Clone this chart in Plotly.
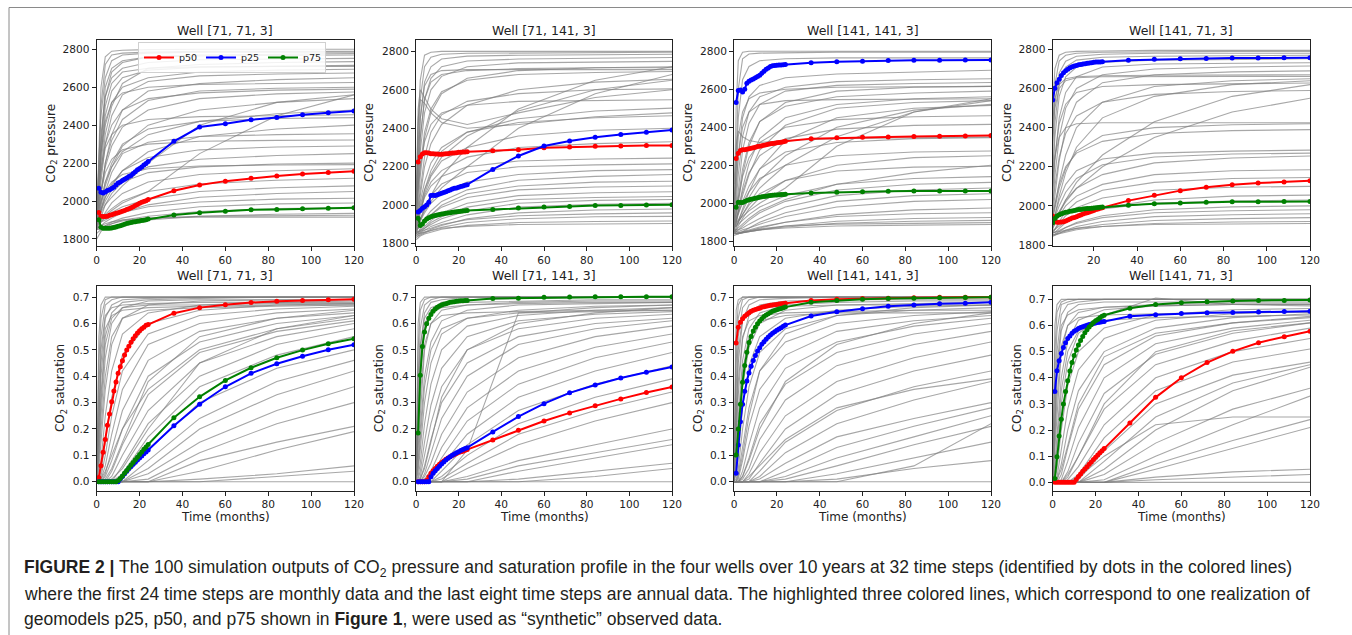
import plotly.graph_objects as go

W_PX, H_PX = 1352, 635

# ---------------- data ----------------
TIME = list(range(1, 25)) + [36, 48, 60, 72, 84, 96, 108, 120]
TG = [0, 1, 2, 4, 7, 12, 24, 48, 84, 120]
WELLS = ["Well [71, 71, 3]", "Well [71, 141, 3]", "Well [141, 141, 3]", "Well [141, 71, 3]"]

# pressure, highlighted realisations
pres_w1_p50 = [1940,1920,1918,1918,1920,1925,1928,1932,1935,1938,1942,1946,1950,1955,1960,1965,1970,1976,1982,1988,1993,1998,2002,2008,2054,2085,2105,2120,2132,2142,2150,2157]
pres_w1_p25 = [2068,2047,2042,2048,2055,2060,2066,2073,2085,2095,2100,2108,2115,2122,2130,2135,2145,2155,2165,2172,2180,2190,2198,2208,2315,2390,2408,2428,2440,2455,2465,2475]
pres_w1_p75 = [1902,1862,1857,1856,1856,1857,1858,1860,1863,1867,1870,1874,1878,1881,1884,1887,1889,1891,1893,1895,1897,1899,1901,1905,1926,1938,1946,1954,1956,1959,1962,1965]

pres_w2_p50 = [2225,2252,2266,2273,2273,2272,2268,2267,2266,2266,2265,2265,2266,2267,2268,2270,2271,2272,2273,2275,2276,2277,2277,2278,2283,2289,2299,2303,2306,2308,2310,2311]
pres_w2_p25 = [1965,1972,1984,1992,2001,2015,2050,2052,2051,2055,2058,2062,2066,2070,2075,2079,2084,2088,2090,2093,2097,2100,2104,2107,2186,2256,2308,2334,2353,2368,2379,2391]
pres_w2_p75 = [1932,1894,1902,1918,1928,1935,1940,1944,1947,1949,1952,1954,1956,1958,1960,1961,1963,1965,1966,1968,1969,1970,1971,1972,1978,1985,1991,1994,1998,1999,2001,2003]

pres_w3_p50 = [2235,2263,2277,2281,2281,2284,2287,2289,2292,2295,2298,2300,2303,2305,2308,2311,2313,2314,2316,2318,2320,2321,2323,2326,2340,2344,2347,2349,2351,2353,2354,2356]
pres_w3_p25 = [2530,2593,2596,2586,2600,2632,2642,2649,2654,2660,2667,2674,2684,2695,2705,2712,2719,2723,2725,2726,2727,2728,2729,2730,2739,2744,2747,2751,2753,2753,2754,2754]
pres_w3_p75 = [1979,2005,2004,2004,2009,2014,2018,2021,2024,2026,2029,2032,2034,2035,2037,2039,2041,2042,2043,2044,2045,2046,2046,2047,2054,2058,2060,2063,2065,2065,2065,2065]

pres_w4_p50 = [1948,1919,1916,1916,1918,1919,1923,1928,1933,1938,1941,1945,1949,1953,1958,1962,1965,1969,1973,1977,1981,1984,1988,1991,2027,2054,2078,2095,2108,2117,2122,2129]
pres_w4_p25 = [2541,2601,2630,2648,2667,2681,2691,2699,2706,2711,2715,2718,2721,2723,2725,2727,2729,2730,2732,2734,2735,2735,2736,2737,2745,2749,2752,2754,2756,2756,2757,2757]
pres_w4_p75 = [1914,1936,1948,1955,1960,1964,1967,1969,1972,1974,1977,1979,1981,1982,1984,1986,1987,1987,1988,1989,1991,1992,1993,1994,2003,2011,2015,2018,2021,2021,2023,2023]

# saturation, highlighted realisations
sat_w1_p50 = [0.016,0.061,0.112,0.16,0.214,0.257,0.303,0.344,0.378,0.411,0.436,0.459,0.48,0.499,0.514,0.529,0.542,0.553,0.564,0.572,0.58,0.586,0.593,0.596,0.639,0.66,0.671,0.679,0.684,0.687,0.69,0.692]
sat_w1_p25 = [0,0,0,0,0,0,0,0,0,0,0.01,0.02,0.03,0.04,0.05,0.058,0.066,0.074,0.082,0.09,0.098,0.106,0.113,0.12,0.212,0.294,0.36,0.411,0.447,0.476,0.5,0.519]
sat_w1_p75 = [0,0,0,0,0,0,0,0,0,0.005,0.012,0.022,0.033,0.043,0.053,0.063,0.073,0.083,0.093,0.103,0.113,0.123,0.132,0.141,0.243,0.322,0.384,0.432,0.47,0.499,0.523,0.542]

sat_w2_p50 = [0,0,0,0,0.006,0.019,0.032,0.042,0.05,0.059,0.066,0.073,0.079,0.085,0.09,0.095,0.099,0.103,0.107,0.111,0.114,0.116,0.119,0.122,0.158,0.195,0.23,0.261,0.288,0.314,0.338,0.359]
sat_w2_p25 = [0,0,0,0,0,0,0.019,0.032,0.042,0.05,0.059,0.067,0.075,0.082,0.089,0.095,0.1,0.105,0.11,0.114,0.118,0.122,0.126,0.129,0.189,0.247,0.296,0.337,0.367,0.393,0.415,0.435]
sat_w2_p75 = [0.185,0.404,0.513,0.568,0.599,0.62,0.634,0.646,0.655,0.661,0.666,0.67,0.673,0.675,0.678,0.68,0.681,0.682,0.684,0.685,0.686,0.686,0.687,0.687,0.695,0.696,0.699,0.7,0.701,0.701,0.701,0.701]

sat_w3_p50 = [0.526,0.586,0.605,0.618,0.627,0.634,0.641,0.646,0.65,0.653,0.656,0.658,0.661,0.663,0.665,0.667,0.669,0.67,0.671,0.672,0.674,0.675,0.676,0.677,0.687,0.692,0.695,0.696,0.697,0.699,0.699,0.699]
sat_w3_p25 = [0.032,0.139,0.227,0.294,0.343,0.382,0.412,0.438,0.46,0.479,0.496,0.508,0.521,0.531,0.54,0.549,0.556,0.563,0.569,0.574,0.579,0.584,0.589,0.594,0.628,0.644,0.656,0.665,0.67,0.675,0.677,0.68]
sat_w3_p75 = [0.101,0.2,0.294,0.377,0.441,0.491,0.528,0.551,0.571,0.586,0.599,0.609,0.618,0.626,0.632,0.637,0.642,0.646,0.649,0.652,0.655,0.657,0.66,0.662,0.68,0.687,0.692,0.695,0.696,0.697,0.698,0.699]

sat_w4_p50 = [0,0,0,0,0,0,0,0,0,0,0.011,0.022,0.032,0.042,0.051,0.06,0.069,0.078,0.087,0.096,0.105,0.113,0.121,0.129,0.227,0.325,0.4,0.458,0.501,0.534,0.557,0.578]
sat_w4_p25 = [0.347,0.427,0.465,0.493,0.516,0.534,0.55,0.56,0.57,0.578,0.583,0.588,0.592,0.595,0.598,0.601,0.604,0.606,0.608,0.609,0.611,0.612,0.614,0.615,0.635,0.641,0.646,0.649,0.65,0.652,0.653,0.654]
sat_w4_p75 = [0.015,0.098,0.177,0.241,0.3,0.347,0.389,0.426,0.458,0.485,0.506,0.525,0.543,0.558,0.572,0.584,0.594,0.603,0.611,0.618,0.623,0.63,0.635,0.639,0.666,0.68,0.687,0.691,0.694,0.696,0.696,0.697]

# ensemble (gray) curves, sampled at TG
gray_pres_w1 = [
[1900,2300,2600,2760,2790,2795,2798,2800,2800,2800],[1880,2200,2500,2720,2770,2780,2785,2790,2790,2790],
[1950,2250,2450,2650,2740,2770,2780,2785,2785,2785],[1870,2100,2300,2550,2680,2730,2760,2770,2775,2778],
[1900,2150,2350,2550,2650,2700,2730,2745,2750,2752],[1850,2000,2150,2350,2500,2620,2700,2720,2730,2735],
[1920,2100,2250,2450,2580,2650,2690,2705,2712,2715],[1880,2050,2200,2400,2520,2600,2650,2680,2690,2695],
[1900,2000,2100,2300,2450,2560,2630,2660,2670,2675],[1860,1950,2050,2200,2350,2480,2580,2620,2640,2650],
[1950,2100,2250,2420,2520,2570,2600,2615,2620,2625],[1880,1960,2050,2200,2320,2430,2530,2580,2595,2600],
[1900,1980,2060,2180,2290,2390,2480,2540,2565,2575],[1870,1920,1980,2080,2180,2290,2400,2480,2520,2540],
[1900,1950,2010,2100,2180,2260,2350,2420,2460,2480],[1850,1870,1890,1920,1950,1990,2050,2250,2450,2560],
[1950,2050,2150,2280,2350,2400,2430,2445,2450,2455],[1880,1940,2000,2100,2200,2300,2380,2420,2435,2440],
[1900,1930,1960,2020,2080,2160,2260,2340,2380,2400],[1860,1900,1950,2050,2150,2250,2310,2340,2350,2355],
[1950,2000,2060,2150,2220,2270,2300,2315,2320,2322],[1880,1910,1950,2020,2090,2160,2230,2270,2285,2290],
[1900,1920,1950,2000,2060,2120,2180,2220,2240,2250],[1850,1880,1920,1980,2040,2100,2150,2180,2195,2200],
[1950,1970,2000,2050,2100,2140,2170,2185,2190,2192],[1870,1880,1900,1940,1990,2040,2100,2140,2160,2170],
[1900,1900,1910,1930,1960,2000,2050,2090,2110,2120],[1880,1880,1890,1910,1940,1970,2010,2050,2070,2080],
[1860,1860,1870,1890,1910,1940,1980,2020,2040,2050],[1900,1890,1890,1900,1920,1940,1970,1995,2010,2015],
[1850,1850,1860,1870,1890,1910,1940,1970,1985,1990],[1870,1860,1860,1870,1880,1900,1920,1945,1960,1965],
[1830,1840,1850,1860,1870,1880,1900,1920,1930,1935],[1800,1820,1840,1860,1880,1895,1910,1920,1922,1925],
[1850,1860,1870,1880,1890,1900,1910,1915,1915,1915],[2000,2150,2350,2600,2700,2740,2760,2765,2768,2770],
[1920,2050,2250,2500,2620,2680,2700,2708,2710,2710],[1900,1920,1940,1980,2020,2080,2200,2400,2520,2560],
[2050,2100,2180,2300,2400,2480,2540,2570,2585,2590],
]
gray_pres_w2 = [
[1900,2400,2650,2780,2795,2800,2800,2800,2800,2800],[1880,2300,2550,2720,2770,2785,2790,2792,2795,2795],
[1950,2250,2450,2640,2720,2760,2775,2780,2782,2785],[1870,2150,2350,2550,2660,2720,2750,2760,2765,2768],
[1900,2100,2280,2480,2600,2670,2720,2740,2745,2748],[1850,2000,2150,2350,2480,2580,2660,2700,2715,2720],
[1920,2050,2200,2380,2500,2590,2650,2680,2690,2695],[2000,2500,2600,2560,2500,2450,2420,2480,2560,2600],
[1950,2450,2550,2530,2480,2430,2400,2420,2460,2480],[1880,1950,2050,2200,2320,2420,2520,2600,2640,2655],
[1900,1980,2080,2250,2380,2470,2540,2580,2600,2605],[1850,1880,1920,1980,2050,2150,2300,2500,2650,2720],
[1900,1910,1930,1970,2020,2090,2200,2400,2580,2680],[1870,1920,1980,2080,2180,2280,2380,2450,2490,2505],
[1900,1950,2020,2120,2220,2300,2380,2430,2455,2465],[1850,1900,1960,2060,2150,2230,2300,2360,2390,2400],
[1880,1920,1970,2050,2120,2180,2250,2300,2320,2330],[1900,1930,1970,2040,2100,2150,2200,2230,2240,2245],
[1860,1890,1930,1990,2050,2110,2170,2200,2210,2215],[1890,1900,1920,1960,2010,2060,2120,2160,2180,2185],
[1870,1880,1900,1930,1970,2020,2080,2130,2150,2160],[1850,1860,1880,1910,1950,2000,2060,2100,2120,2125],
[1880,1880,1890,1920,1950,1990,2040,2080,2095,2100],[1860,1860,1870,1890,1920,1960,2010,2050,2065,2070],
[1840,1850,1860,1880,1910,1940,1990,2030,2040,2045],[1870,1860,1870,1880,1900,1930,1970,2010,2025,2030],
[1850,1850,1855,1870,1890,1910,1950,1990,2005,2010],[1830,1840,1850,1860,1875,1895,1930,1960,1975,1980],
[1860,1860,1865,1870,1880,1900,1925,1945,1955,1960],[1840,1840,1845,1855,1870,1885,1910,1930,1940,1942],
[1820,1830,1840,1850,1860,1875,1895,1910,1915,1918],[1850,1850,1855,1860,1870,1880,1890,1900,1902,1905],
[2050,2250,2450,2620,2680,2700,2705,2705,2705,2705],[1950,2150,2350,2550,2640,2680,2700,2710,2715,2715],
[1900,1950,2000,2080,2160,2250,2360,2490,2600,2650],[2000,2100,2200,2330,2420,2480,2520,2540,2545,2548],
]
gray_pres_w3 = [
[1900,2500,2750,2795,2800,2800,2800,2800,2800,2800],[1880,2300,2600,2760,2785,2790,2792,2795,2795,2795],
[1920,2200,2450,2650,2720,2750,2760,2765,2765,2765],[1870,2050,2250,2450,2560,2620,2660,2680,2690,2700],
[1900,2000,2150,2350,2480,2560,2610,2640,2650,2655],[1850,1950,2080,2280,2420,2520,2590,2620,2630,2635],
[1880,1920,2000,2150,2300,2430,2530,2590,2610,2615],[1900,1950,2030,2180,2320,2430,2510,2560,2580,2590],
[1860,1900,1960,2080,2210,2340,2450,2520,2550,2560],[1890,1910,1950,2040,2150,2280,2410,2500,2530,2540],
[1850,1870,1900,1970,2060,2180,2330,2450,2500,2515],[1880,1890,1910,1960,2030,2120,2250,2400,2490,2520],
[1870,1880,1900,1940,2000,2080,2200,2350,2480,2550],[1900,1950,2020,2140,2240,2320,2400,2440,2455,2460],
[1860,1900,1960,2060,2160,2250,2340,2390,2410,2415],[1880,1900,1940,2010,2090,2180,2270,2320,2340,2345],
[1850,1860,1880,1920,1970,2030,2120,2200,2240,2250],[1900,1920,1950,2000,2060,2130,2200,2250,2270,2275],
[1870,1880,1900,1940,1990,2050,2120,2170,2190,2195],[1860,1860,1870,1890,1920,1960,2020,2100,2160,2200],
[1880,1880,1890,1910,1940,1980,2040,2100,2130,2140],[1850,1850,1860,1880,1910,1950,2010,2070,2100,2110],
[1870,1860,1860,1870,1890,1920,1980,2040,2070,2080],[1850,1840,1840,1850,1870,1900,1950,2010,2040,2050],
[1860,1850,1850,1860,1870,1890,1930,1980,2010,2020],[1840,1840,1840,1845,1855,1870,1900,1940,1965,1975],
[1860,1850,1845,1850,1860,1875,1900,1930,1945,1950],[1850,1840,1840,1845,1850,1860,1880,1905,1920,1925],
[1830,1835,1840,1845,1850,1860,1875,1895,1905,1910],[1850,1845,1845,1850,1855,1865,1880,1890,1895,1898],
[1840,1840,1842,1846,1852,1860,1870,1880,1885,1888],[2000,2200,2350,2480,2550,2580,2600,2610,2612,2615],
[1950,2100,2250,2400,2480,2520,2540,2545,2548,2550],[2100,2300,2380,2350,2330,2320,2330,2340,2345,2348],
[1900,1900,1910,1930,1960,2000,2080,2300,2480,2540],
]
gray_pres_w4 = [
[1950,2500,2700,2770,2785,2790,2792,2795,2795,2795],[1900,2400,2620,2740,2770,2780,2785,2788,2790,2790],
[1920,2300,2520,2680,2740,2765,2775,2780,2780,2780],[1880,2200,2420,2620,2710,2745,2760,2765,2768,2770],
[1900,2150,2350,2560,2660,2710,2735,2745,2750,2752],[1870,2050,2230,2450,2580,2660,2710,2725,2730,2732],
[1900,2000,2150,2350,2500,2600,2670,2700,2710,2715],[1880,1950,2050,2230,2400,2530,2630,2670,2685,2690],
[1900,1940,2000,2120,2260,2400,2530,2610,2640,2650],[1860,1900,1950,2050,2170,2300,2450,2560,2620,2640],
[1880,1890,1910,1960,2030,2120,2260,2430,2560,2620],[1900,1910,1930,1970,2020,2090,2200,2350,2480,2550],
[1950,2100,2250,2420,2520,2580,2610,2620,2625,2628],[1900,2000,2100,2250,2370,2460,2530,2570,2585,2590],
[1880,1930,1990,2090,2190,2280,2360,2400,2415,2420],[1900,1950,2010,2110,2200,2270,2330,2370,2385,2390],
[1870,1900,1950,2030,2110,2180,2240,2270,2280,2285],[1890,1910,1940,2000,2070,2140,2210,2250,2265,2270],
[1860,1880,1910,1970,2030,2090,2160,2220,2245,2255],[1880,1890,1910,1950,2000,2050,2110,2160,2180,2185],
[1850,1860,1880,1920,1970,2020,2080,2120,2140,2145],[1870,1870,1880,1910,1950,1990,2040,2080,2095,2100],
[1860,1860,1865,1885,1915,1950,1990,2030,2050,2055],[1880,1875,1880,1895,1920,1950,1985,2015,2025,2030],
[1850,1850,1855,1870,1890,1915,1950,1980,1995,2000],[1870,1865,1865,1875,1890,1910,1940,1965,1975,1980],
[1840,1845,1850,1860,1875,1895,1920,1945,1955,1960],[1860,1855,1855,1860,1870,1885,1905,1925,1935,1940],
[1850,1850,1852,1858,1866,1878,1895,1910,1918,1920],[1870,1865,1865,1868,1875,1885,1895,1905,1908,1910],
[2100,2350,2500,2600,2640,2655,2660,2662,2662,2662],[2300,2450,2550,2620,2650,2660,2665,2668,2670,2670],
[2050,2150,2250,2350,2400,2420,2425,2425,2425,2425],
]
gray_sat_w1 = [
[0,0.45,0.62,0.69,0.7,0.7,0.7,0.7,0.7,0.7],[0,0.35,0.55,0.67,0.69,0.7,0.7,0.7,0.7,0.7],
[0,0.25,0.45,0.62,0.67,0.69,0.695,0.7,0.7,0.7],[0,0.15,0.33,0.55,0.64,0.68,0.69,0.695,0.7,0.7],
[0,0.1,0.25,0.47,0.6,0.66,0.685,0.69,0.69,0.69],[0,0.05,0.15,0.35,0.52,0.62,0.67,0.685,0.69,0.69],
[0,0.02,0.08,0.25,0.42,0.56,0.64,0.67,0.68,0.685],[0,0.01,0.04,0.15,0.32,0.48,0.6,0.65,0.67,0.675],
[0,0,0.02,0.1,0.25,0.42,0.56,0.63,0.655,0.665],[0,0,0.01,0.06,0.18,0.35,0.52,0.6,0.64,0.655],
[0,0,0,0.03,0.12,0.27,0.46,0.57,0.62,0.64],[0,0,0,0.02,0.08,0.2,0.4,0.53,0.6,0.63],
[0,0,0,0,0.04,0.14,0.33,0.49,0.57,0.61],[0,0,0,0,0.02,0.1,0.27,0.45,0.55,0.6],
[0,0,0,0,0,0.06,0.22,0.4,0.52,0.58],[0,0,0,0,0,0.03,0.17,0.36,0.48,0.55],
[0,0,0,0,0,0.01,0.12,0.3,0.43,0.5],[0,0,0,0,0,0,0.08,0.24,0.38,0.46],
[0,0,0,0,0,0,0.05,0.2,0.33,0.42],[0,0,0,0,0,0,0.03,0.15,0.27,0.36],
[0,0,0,0,0,0,0.01,0.11,0.22,0.3],[0,0,0,0,0,0,0,0.08,0.15,0.21],
[0,0,0,0,0,0,0,0.04,0.12,0.19],[0,0,0,0,0,0,0,0.01,0.03,0.06],
[0,0,0,0,0,0,0,0,0.02,0.04],[0,0,0,0,0,0,0,0,0,0],
[0,0.55,0.67,0.7,0.7,0.7,0.7,0.7,0.7,0.7],[0,0.3,0.5,0.63,0.66,0.67,0.675,0.68,0.68,0.68],
[0,0.2,0.4,0.58,0.63,0.65,0.66,0.665,0.67,0.67],[0,0.08,0.2,0.4,0.55,0.62,0.65,0.66,0.665,0.67],
[0,0,0.01,0.04,0.1,0.2,0.35,0.5,0.58,0.62],[0,0,0,0.01,0.05,0.15,0.38,0.55,0.62,0.65],
[0,0,0,0,0.01,0.05,0.2,0.45,0.58,0.63],[0,0.12,0.3,0.52,0.62,0.66,0.67,0.67,0.675,0.675],
]
gray_sat_w2 = [
[0,0.5,0.65,0.69,0.7,0.7,0.7,0.7,0.7,0.7],[0,0.4,0.58,0.67,0.69,0.7,0.7,0.7,0.7,0.7],
[0,0.3,0.5,0.64,0.68,0.69,0.7,0.7,0.7,0.7],[0,0.2,0.4,0.58,0.65,0.68,0.69,0.695,0.7,0.7],
[0,0.12,0.28,0.5,0.6,0.65,0.67,0.68,0.685,0.685],[0,0.08,0.2,0.4,0.53,0.61,0.65,0.67,0.675,0.68],
[0,0.04,0.12,0.3,0.45,0.56,0.62,0.65,0.665,0.67],[0,0.02,0.07,0.22,0.37,0.5,0.59,0.63,0.65,0.66],
[0,0.01,0.04,0.15,0.29,0.43,0.55,0.61,0.635,0.645],[0,0,0.02,0.1,0.22,0.36,0.5,0.58,0.62,0.635],
[0,0,0.01,0.06,0.16,0.3,0.45,0.55,0.6,0.62],[0,0,0,0.03,0.11,0.24,0.4,0.52,0.58,0.61],
[0,0,0,0.02,0.07,0.18,0.34,0.47,0.55,0.59],[0,0,0,0.01,0.04,0.13,0.28,0.42,0.51,0.56],
[0,0,0,0,0.02,0.09,0.23,0.37,0.47,0.53],[0,0,0,0,0.01,0.06,0.18,0.32,0.42,0.49],
[0,0,0,0,0,0.04,0.14,0.27,0.37,0.44],[0,0,0,0,0,0.02,0.1,0.22,0.32,0.39],
[0,0,0,0,0,0.01,0.07,0.18,0.27,0.34],[0,0,0,0,0,0,0.05,0.14,0.23,0.3],
[0,0,0,0,0,0,0.02,0.08,0.14,0.2],[0,0,0,0,0,0,0.01,0.06,0.11,0.16],
[0,0,0,0,0,0,0,0.04,0.09,0.14],[0,0,0,0,0,0,0,0.01,0.04,0.07],
[0,0,0,0,0,0,0,0,0.02,0.05],[0,0,0,0,0,0,0,0,0,0],
[0,0,0,0,0,0,0.12,0.64,0.66,0.67],[0,0.6,0.68,0.7,0.7,0.7,0.7,0.7,0.7,0.7],
[0,0.25,0.45,0.6,0.64,0.66,0.67,0.675,0.68,0.68],[0,0.15,0.32,0.52,0.6,0.63,0.64,0.645,0.65,0.65],
[0,0.06,0.16,0.36,0.5,0.58,0.62,0.64,0.645,0.65],[0,0,0.01,0.05,0.15,0.32,0.5,0.6,0.64,0.66],
[0,0.35,0.52,0.62,0.66,0.675,0.68,0.685,0.69,0.69],
]
gray_sat_w3 = [
[0,0.55,0.67,0.7,0.7,0.7,0.7,0.7,0.7,0.7],[0,0.45,0.62,0.69,0.7,0.7,0.7,0.7,0.7,0.7],
[0,0.35,0.55,0.66,0.69,0.7,0.7,0.7,0.7,0.7],[0,0.25,0.45,0.61,0.67,0.69,0.695,0.7,0.7,0.7],
[0,0.15,0.33,0.54,0.63,0.67,0.685,0.69,0.69,0.69],[0,0.1,0.25,0.46,0.58,0.64,0.67,0.68,0.685,0.685],
[0,0.05,0.15,0.36,0.51,0.6,0.65,0.67,0.675,0.68],[0,0.03,0.1,0.28,0.44,0.55,0.62,0.65,0.665,0.67],
[0,0.01,0.05,0.2,0.36,0.49,0.58,0.63,0.65,0.66],[0,0,0.03,0.13,0.28,0.42,0.53,0.6,0.63,0.645],
[0,0,0.01,0.08,0.21,0.35,0.48,0.57,0.61,0.63],[0,0,0,0.04,0.14,0.28,0.43,0.53,0.59,0.62],
[0,0,0,0.02,0.09,0.22,0.37,0.49,0.56,0.6],[0,0,0,0.01,0.05,0.16,0.31,0.44,0.52,0.57],
[0,0,0,0,0.03,0.11,0.25,0.38,0.47,0.53],[0,0,0,0,0.01,0.07,0.2,0.33,0.42,0.48],
[0,0,0,0,0,0.04,0.15,0.27,0.36,0.42],[0,0,0,0,0,0.02,0.11,0.22,0.31,0.38],
[0,0,0,0,0,0.01,0.07,0.17,0.24,0.3],[0,0,0,0,0,0,0.04,0.13,0.21,0.28],
[0,0,0,0,0,0,0.02,0.09,0.17,0.25],[0,0,0,0,0,0,0.01,0.06,0.14,0.21],
[0,0,0,0,0,0,0,0.03,0.09,0.15],[0,0,0,0,0,0,0,0.01,0.05,0.08],
[0,0,0,0,0,0,0,0,0.06,0.22],[0,0,0,0,0,0,0,0,0,0],
[0,0.65,0.69,0.7,0.7,0.7,0.7,0.7,0.7,0.7],[0,0.3,0.5,0.62,0.65,0.66,0.665,0.67,0.67,0.67],
[0,0.2,0.38,0.55,0.61,0.63,0.64,0.645,0.65,0.65],[0,0,0.02,0.1,0.25,0.42,0.56,0.63,0.66,0.67],
[0,0.08,0.2,0.42,0.55,0.61,0.63,0.64,0.64,0.64],[0,0,0,0.02,0.08,0.2,0.38,0.52,0.6,0.64],
[0,0,0,0,0.02,0.06,0.16,0.28,0.35,0.39],
]
gray_sat_w4 = [
[0,0.5,0.65,0.69,0.7,0.7,0.7,0.7,0.7,0.7],[0,0.4,0.58,0.68,0.69,0.7,0.7,0.7,0.7,0.7],
[0,0.3,0.5,0.64,0.68,0.69,0.7,0.7,0.7,0.7],[0,0.2,0.4,0.58,0.65,0.68,0.69,0.69,0.69,0.69],
[0,0.12,0.28,0.5,0.6,0.65,0.67,0.68,0.685,0.685],[0,0.07,0.18,0.4,0.54,0.62,0.66,0.675,0.68,0.68],
[0,0.03,0.1,0.3,0.46,0.57,0.64,0.705,0.68,0.675],[0,0.01,0.05,0.2,0.37,0.5,0.59,0.64,0.66,0.665],
[0,0,0.02,0.12,0.28,0.43,0.55,0.62,0.645,0.655],[0,0,0.01,0.07,0.2,0.35,0.5,0.59,0.63,0.645],
[0,0,0,0.03,0.13,0.28,0.45,0.56,0.61,0.635],[0,0,0,0.01,0.08,0.21,0.4,0.53,0.59,0.62],
[0,0,0,0,0.04,0.15,0.34,0.49,0.57,0.61],[0,0,0,0,0.02,0.1,0.28,0.45,0.54,0.59],
[0,0,0,0,0.01,0.06,0.22,0.4,0.5,0.55],[0,0,0,0,0,0.03,0.17,0.35,0.46,0.51],
[0,0,0,0,0,0.01,0.12,0.3,0.41,0.46],[0,0,0,0,0,0,0.08,0.25,0.38,0.45],
[0,0,0,0,0,0,0.05,0.2,0.35,0.44],[0,0,0,0,0,0,0.03,0.15,0.28,0.36],
[0,0,0,0,0,0,0.01,0.1,0.22,0.33],[0,0,0,0,0,0,0,0.07,0.16,0.24],
[0,0,0,0,0,0,0,0.05,0.13,0.21],[0,0,0,0,0,0,0,0.02,0.04,0.05],
[0,0,0,0,0,0,0,0.01,0.02,0.03],[0,0,0,0,0,0,0,0,0,0],
[0,0.6,0.68,0.7,0.7,0.7,0.7,0.7,0.7,0.7],[0,0.25,0.45,0.6,0.64,0.66,0.67,0.675,0.68,0.68],
[0,0.15,0.32,0.52,0.6,0.63,0.64,0.645,0.65,0.65],[0,0.05,0.14,0.35,0.5,0.58,0.62,0.63,0.635,0.64],
[0,0,0.01,0.05,0.14,0.3,0.48,0.57,0.61,0.63],[0,0,0,0,0.03,0.1,0.3,0.5,0.58,0.61],
[0,0,0,0,0,0.02,0.1,0.22,0.25,0.25],
]

PRES = [(pres_w1_p50, pres_w1_p25, pres_w1_p75), (pres_w2_p50, pres_w2_p25, pres_w2_p75),
        (pres_w3_p50, pres_w3_p25, pres_w3_p75), (pres_w4_p50, pres_w4_p25, pres_w4_p75)]
SAT = [(sat_w1_p50, sat_w1_p25, sat_w1_p75), (sat_w2_p50, sat_w2_p25, sat_w2_p75),
       (sat_w3_p50, sat_w3_p25, sat_w3_p75), (sat_w4_p50, sat_w4_p25, sat_w4_p75)]
GRAY_PRES = [gray_pres_w1, gray_pres_w2, gray_pres_w3, gray_pres_w4]
GRAY_SAT = [gray_sat_w1, gray_sat_w2, gray_sat_w3, gray_sat_w4]
LABELS = ["p50", "p25", "p75"]
COLORS = ["#ff0000", "#0000ff", "#008000"]

# ---------------- layout geometry (pixels) ----------------
COL_X = [(96.7, 354), (416, 672), (734, 991), (1052.7, 1310)]
ROW_Y = [(40, 246), (286, 490.7)]
X_RANGES_P = [[0, 120], [0, 120], [0, 120], [1, 120]]
Y_RANGES_P = [[1763, 2849], [1788, 2859], [1775, 2859], [1795, 2848]]
Y_RANGES_S = [[-0.034, 0.742], [-0.034, 0.742], [-0.034, 0.742], [-0.032, 0.751]]
YLAB_X_P = [51.7, 370, 689, 1008]
YLAB_X_S = [61.7, 380, 699, 1018]

def fx(p): return p / W_PX
def fy(p): return 1 - p / H_PX

FONT = "DejaVu Sans"
fig = go.Figure()
layout = dict(width=W_PX, height=H_PX, margin=dict(l=0, r=0, t=0, b=0, pad=0), autosize=False,
              paper_bgcolor="white", plot_bgcolor="white", showlegend=True)
annotations = []

for r in range(2):
    for c in range(4):
        i = r * 4 + c + 1
        xa = "x" if i == 1 else f"x{i}"
        ya = "y" if i == 1 else f"y{i}"
        grays = GRAY_PRES[c] if r == 0 else GRAY_SAT[c]
        series = PRES[c] if r == 0 else SAT[c]
        for g in grays:
            fig.add_trace(go.Scatter(x=TG, y=g, xaxis=xa, yaxis=ya, mode="lines",
                                     line=dict(color="rgba(125,125,125,0.68)", width=1.1),
                                     hoverinfo="skip", showlegend=False))
        for k in range(3):
            fig.add_trace(go.Scatter(x=TIME, y=series[k], xaxis=xa, yaxis=ya, mode="lines+markers",
                                     name=LABELS[k], line=dict(color=COLORS[k], width=2),
                                     marker=dict(color=COLORS[k], size=5),
                                     showlegend=(i == 1)))
        x0, x1 = COL_X[c]
        y0, y1 = ROW_Y[r]
        axcommon = dict(showline=True, mirror=True, linecolor="#222", linewidth=1, ticks="outside",
                        ticklen=4, tickwidth=1, tickcolor="#222", showgrid=False, zeroline=False,
                        tickfont=dict(family=FONT, size=10.6, color="#222"), automargin=False)
        xr = X_RANGES_P[c] if r == 0 else [0, 120]
        tv = [t for t in [0, 20, 40, 60, 80, 100, 120] if t >= xr[0]]
        layout["xaxis" if i == 1 else f"xaxis{i}"] = dict(
            domain=[fx(x0), fx(x1)], anchor=ya, range=xr, tickvals=tv, **axcommon)
        if r == 0:
            yd = dict(range=Y_RANGES_P[c], tickvals=[1800, 2000, 2200, 2400, 2600, 2800])
        else:
            yd = dict(range=Y_RANGES_S[c], tickvals=[0, 0.1, 0.2, 0.3, 0.4, 0.5, 0.6, 0.7], tickformat=".1f")
        layout["yaxis" if i == 1 else f"yaxis{i}"] = dict(
            domain=[fy(y1), fy(y0)], anchor=xa, **yd, **axcommon)
        cx = (x0 + x1) / 2
        annotations.append(dict(text=WELLS[c], x=fx(cx), y=fy(y0 - 10), xref="paper", yref="paper",
                                showarrow=False, xanchor="center", yanchor="middle",
                                font=dict(family=FONT, size=12.5, color="#222")))
        if r == 0:
            annotations.append(dict(text="CO<sub>2</sub> pressure", x=fx(YLAB_X_P[c]), y=fy((y0 + y1) / 2),
                                    xref="paper", yref="paper", showarrow=False, textangle=-90,
                                    xanchor="center", yanchor="middle",
                                    font=dict(family=FONT, size=12, color="#222")))
        else:
            annotations.append(dict(text="CO<sub>2</sub> saturation", x=fx(YLAB_X_S[c]), y=fy((y0 + y1) / 2),
                                    xref="paper", yref="paper", showarrow=False, textangle=-90,
                                    xanchor="center", yanchor="middle",
                                    font=dict(family=FONT, size=12, color="#222")))
            annotations.append(dict(text="Time (months)", x=fx(cx), y=fy(516.7), xref="paper", yref="paper",
                                    showarrow=False, xanchor="center", yanchor="middle",
                                    font=dict(family=FONT, size=12, color="#222")))

CAPTION = [
    "<b>FIGURE 2 |</b> The 100 simulation outputs of CO<sub>2</sub> pressure and saturation profile in the four wells over 10 years at 32 time steps (identified by dots in the colored lines)",
    "where the first 24 time steps are monthly data and the last eight time steps are annual data. The highlighted three colored lines, which correspond to one realization of",
    "geomodels p25, p50, and p75 shown in <b>Figure 1</b>, were used as \u201csynthetic\u201d observed data.",
]
CAP_Y = [568, 594, 619]
for line, yy in zip(CAPTION, CAP_Y):
    annotations.append(dict(text=line, x=fx(22), y=fy(yy), xref="paper", yref="paper", showarrow=False,
                            xanchor="left", yanchor="middle",
                            font=dict(family="Liberation Sans", size=17.5, color="#231f20")))

layout["annotations"] = annotations
layout["shapes"] = [
    dict(type="line", xref="paper", yref="paper", x0=fx(9), x1=1, y0=fy(7.5), y1=fy(7.5),
         line=dict(color="#8a8a8a", width=1)),
    dict(type="line", xref="paper", yref="paper", x0=fx(9), x1=fx(9), y0=fy(7.5), y1=0,
         line=dict(color="#8a8a8a", width=1)),
]
layout["legend"] = dict(orientation="h", x=fx(138), y=fy(42), xanchor="left", yanchor="top",
                        bgcolor="rgba(255,255,255,0.85)", bordercolor="#d0d0d0", borderwidth=1,
                        font=dict(family=FONT, size=9.5, color="#222"), itemwidth=30,
                        entrywidth=17, tracegroupgap=0)
fig.update_layout(**layout)
fig.write_html("out.html", config={"displayModeBar": False},
               post_script="document.body.style.margin='0px';document.body.style.padding='0px';")
